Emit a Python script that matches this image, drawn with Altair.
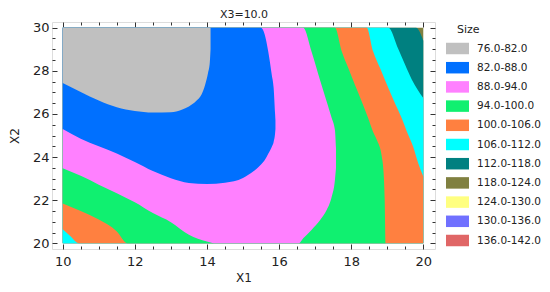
import altair as alt
import pandas as pd

# ---------------- data ----------------
LEVELS = ["76.0-82.0", "82.0-88.0", "88.0-94.0", "94.0-100.0", "100.0-106.0",
          "106.0-112.0", "112.0-118.0", "118.0-124.0", "124.0-130.0",
          "130.0-136.0", "136.0-142.0"]
COLORS = ["#C0C0C0", "#0070FF", "#FF80FF", "#10F070", "#FF8040",
          "#00FFFF", "#008080", "#808040", "#FFFF80", "#7070FF", "#E06666"]

# region Size < 124 (whole window, olive on top)
OLIVE_X = [10, 20]
OLIVE_LO = [20, 20]
OLIVE_HI = [30, 30]

# region Size < 118
TEAL_X = [10, 19.8, 20]
TEAL_LO = [20, 20, 20]
TEAL_HI = [30, 30, 29.4]

# region Size < 112
CYAN_X = [10, 19.03, 19.31, 19.49, 19.68, 20]
CYAN_LO = [20, 20, 20, 20, 20, 20]
CYAN_HI = [30, 30, 29.0, 28.3, 27.6, 26.74]

# region Size < 106
ORANGE_X = [10, 10.2, 10.45, 18.43, 18.61, 18.8, 18.99, 19.19, 19.4, 19.54, 19.72, 19.86, 20]
ORANGE_LO = [20.65, 20.35, 20, 20, 20, 20, 20, 20, 20, 20, 20, 20, 20]
ORANGE_HI = [30, 30, 30, 30, 28.9, 28.13, 27.36, 26.59, 25.81, 25.2, 24.48, 23.71, 23.1]

# region Size < 100
GREEN_X = [10, 10.5, 11, 11.5, 11.8, 17.55, 17.74, 17.92, 18.1, 18.29, 18.47, 18.6, 18.71, 18.85, 18.9, 18.93, 18.95]
GREEN_LO = [21.85, 21.5, 21.1, 20.55, 20, 20, 20, 20, 20, 20, 20, 20, 20, 20, 20, 20, 20]
GREEN_HI = [30, 30, 30, 30, 30, 30, 28.9, 28.13, 27.36, 26.59, 25.81, 25.2, 24.8, 24.02, 23.25, 22.0, 20.0]

# region Size < 94
PINK_X = [10, 10.5, 11, 11.5, 12, 12.5, 13, 13.5, 14, 14.2, 16.55, 16.67, 16.9, 17.14, 17.32, 17.46, 17.55, 17.58]
PINK_LO = [23.48, 23.13, 22.72, 22.32, 21.9, 21.4, 20.98, 20.4, 20.08, 20, 20, 20.23, 20.62, 21.08, 21.54, 22.16, 22.94, 23.5]
PINK_HI = [30, 30, 30, 30, 30, 30, 30, 30, 30, 30, 30, 30, 28.9, 27.55, 26.58, 25.81, 25.26, 24.4]

# region Size < 88
BLUE_X = [10, 10.5, 11, 11.5, 12, 12.5, 13, 13.5, 14, 14.5, 15, 15.3, 15.5, 15.6, 15.7, 15.8, 15.85, 15.89, 15.9]
BLUE_LO = [25.3, 24.85, 24.5, 24.17, 23.77, 23.35, 23.02, 22.8, 22.75, 22.81, 23.03, 23.35, 23.65, 23.85, 24.15, 24.48, 24.7, 25.1, 25.3]
BLUE_HI = [30, 30, 30, 30, 30, 30, 30, 30, 30, 30, 30, 30, 30, 29.7, 28.9, 27.8, 27.2, 26.0, 25.7]

# region Size < 82
GRAY_X = [10, 10.5, 11, 11.5, 12, 12.5, 13, 13.3, 13.5, 13.7, 13.85, 13.95, 14.03, 14.08, 14.1]
GRAY_LO = [27.43, 27.02, 26.62, 26.31, 26.14, 26.07, 26.08, 26.2, 26.35, 26.6, 26.9, 27.35, 27.9, 28.4, 29.0]
GRAY_HI = [30, 30, 30, 30, 30, 30, 30, 30, 30, 30, 30, 30, 30, 30, 30]

X_LABELS = [10, 12, 14, 16, 18, 20]
Y_LABELS = [20, 22, 24, 26, 28, 30]
X_TICKS = [10, 10.5, 11, 11.5, 12, 12.5, 13, 13.5, 14, 14.5, 15, 15.5, 16, 16.5, 17, 17.5, 18, 18.5, 19, 19.5, 20]
Y_TICKS = [20, 20.5, 21, 21.5, 22, 22.5, 23, 23.5, 24, 24.5, 25, 25.5, 26, 26.5, 27, 27.5, 28, 28.5, 29, 29.5, 30]

FONT = "DejaVu Sans"
W, H = 383, 227

xscale = alt.Scale(domain=[9.703, 20.325], nice=False, zero=False)
yscale = alt.Scale(domain=[19.736, 30.264], nice=False, zero=False)
cscale = alt.Scale(domain=LEVELS, range=COLORS)

major_cond = {"condition": {"test": "datum.value % 2 === 0", "value": 5}, "value": 3}

# labelled axes (no ticks)
x_axis = alt.Axis(values=X_LABELS, title="X1", orient="bottom", domain=False, grid=False,
                  ticks=False, format=".0f",
                  labelFont=FONT, labelFontSize=13, labelColor="#222", labelPadding=6,
                  labelFlush=False, labelOverlap=False,
                  titleFont=FONT, titleFontSize=12, titleFontWeight="normal", titleColor="#222",
                  titlePadding=4)
y_axis = alt.Axis(values=Y_LABELS, title="X2", orient="left", domain=False, grid=False,
                  ticks=False, format=".0f",
                  labelFont=FONT, labelFontSize=13, labelColor="#222", labelPadding=3,
                  labelFlush=False, labelOverlap=False,
                  titleFont=FONT, titleFontSize=12, titleFontWeight="normal", titleColor="#222",
                  titlePadding=11)


def tick_axis(vals, orient, offset):
    return alt.Axis(values=vals, orient=orient, offset=offset, domain=False, grid=False,
                    labels=False, title=None, tickSize=major_cond, tickColor="#333")


legend = alt.Legend(title="\u200b\u2002\u2002Size", orient="none", legendX=394, legendY=2,
                    titleFont=FONT, titleFontSize=11, titleFontWeight="normal", titleColor="#222",
                    titlePadding=2, labelFont=FONT, labelFontSize=10.5, labelColor="#222",
                    symbolType="M-1,-0.5H1V0.5H-1Z", symbolSize=529, symbolStrokeWidth=0,
                    symbolOpacity=1, rowPadding=1.2, labelOffset=8, labelLimit=200)


def region(xs, los, his, band, first=False):
    df = pd.DataFrame({"X1": xs, "lo": los, "hi": his, "band": band})
    return alt.Chart(df).mark_area(orient="vertical", interpolate="monotone", opacity=1).encode(
        x=alt.X("X1:Q", scale=xscale, axis=x_axis if first else None),
        y=alt.Y("lo:Q", scale=yscale, axis=y_axis if first else None),
        y2="hi:Q",
        color=alt.Color("band:N", scale=cscale, legend=legend if first else None),
    )


corner_df = pd.DataFrame({"X1": [10, 20], "lo": [20, 30]})
# inward ticks on bottom and left edges
ticks_a = alt.Chart(corner_df).mark_point(opacity=0).encode(
    x=alt.X("X1:Q", scale=xscale, axis=tick_axis(X_TICKS, "top", -H)),
    y=alt.Y("lo:Q", scale=yscale, axis=tick_axis(Y_TICKS, "right", -W)),
)
# inward ticks on top and right edges
ticks_b = alt.Chart(corner_df).mark_point(opacity=0).encode(
    x=alt.X("X1:Q", scale=xscale, axis=tick_axis(X_TICKS, "bottom", -H)),
    y=alt.Y("lo:Q", scale=yscale, axis=tick_axis(Y_TICKS, "left", -W)),
)
title_layer = alt.Chart(corner_df).mark_point(opacity=0).encode(
    x=alt.X("X1:Q", scale=xscale,
            axis=alt.Axis(orient="top", values=[], domain=False, grid=False, labels=False,
                          ticks=False, title="X3=10.0", titleFont=FONT, titleFontSize=11,
                          titleFontWeight="normal", titleColor="#222", titlePadding=5,
                          titleBaseline="alphabetic")),
)

layers = [
    region(OLIVE_X, OLIVE_LO, OLIVE_HI, LEVELS[7], first=True),
    region(TEAL_X, TEAL_LO, TEAL_HI, LEVELS[6]),
    region(CYAN_X, CYAN_LO, CYAN_HI, LEVELS[5]),
    region(ORANGE_X, ORANGE_LO, ORANGE_HI, LEVELS[4]),
    region(GREEN_X, GREEN_LO, GREEN_HI, LEVELS[3]),
    region(PINK_X, PINK_LO, PINK_HI, LEVELS[2]),
    region(BLUE_X, BLUE_LO, BLUE_HI, LEVELS[1]),
    region(GRAY_X, GRAY_LO, GRAY_HI, LEVELS[0]),
    ticks_a,
    ticks_b,
    title_layer,
]

chart = alt.layer(*layers).resolve_axis(x="independent", y="independent").properties(
    width=W, height=H,
    padding={"left": 44, "top": 14, "right": 107, "bottom": 35},
    autosize=alt.AutoSizeParams(type="none"),
).configure_view(stroke="#444", strokeWidth=1).configure(background="white")

chart.save("out.html", embed_options={"renderer": "svg", "actions": False})
